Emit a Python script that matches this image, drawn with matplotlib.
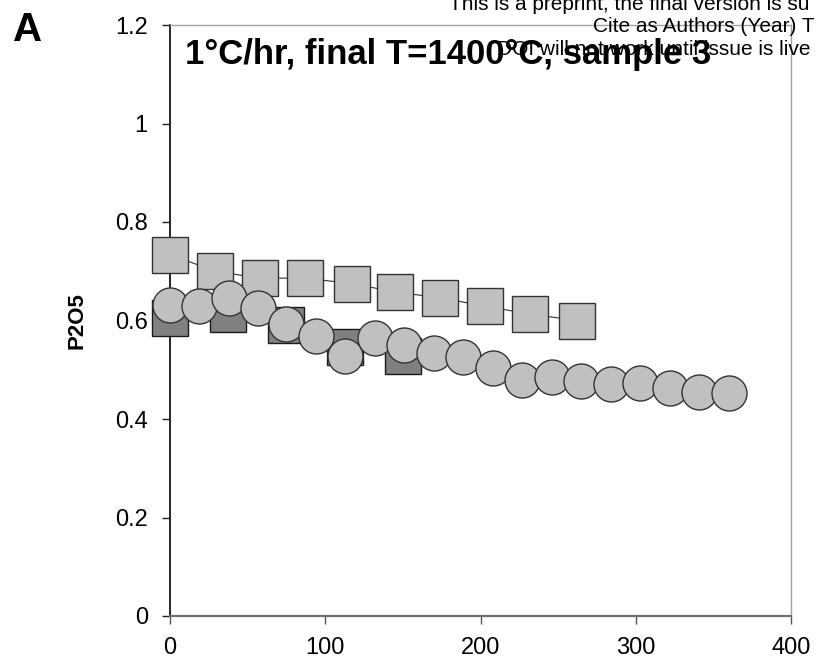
import matplotlib
matplotlib.use("Agg")
import matplotlib.pyplot as plt

plt.rcParams['font.family'] = ['Liberation Sans', 'DejaVu Sans']

# Data
x_light_sq = [0, 29, 58, 87, 117, 145, 174, 203, 232, 262]
y_light_sq = [0.734, 0.700, 0.686, 0.686, 0.675, 0.658, 0.646, 0.629, 0.613, 0.600]

x_dark_sq = [0, 37.5, 75, 112.5, 150]
y_dark_sq = [0.605, 0.613, 0.590, 0.546, 0.528]

x_circ = [0, 19, 38, 57, 75, 94, 113, 132, 151, 170, 189, 208, 227, 246, 265, 284, 303, 322, 341, 360]
y_circ = [0.631, 0.629, 0.646, 0.625, 0.592, 0.568, 0.527, 0.565, 0.550, 0.535,
          0.525, 0.504, 0.480, 0.486, 0.478, 0.471, 0.474, 0.463, 0.455, 0.452]

x_ticks = [0, 100, 200, 300, 400]
y_ticks = [0, 0.2, 0.4, 0.6, 0.8, 1.0, 1.2]
y_tick_labels = ["0", "0.2", "0.4", "0.6", "0.8", "1", "1.2"]

title = "1°C/hr, final T=1400°C, sample 3"
watermark = ["This is a preprint, the final version is su",
             "Cite as Authors (Year) T",
             "DOI will not work until issue is live"]

DPI = 100
W, H = 816, 665
fig = plt.figure(figsize=(W / DPI, H / DPI), dpi=DPI)
ax = fig.add_axes([170 / W, 1 - 616 / H, (791 - 170) / W, (616 - 25) / H])

ms = 36 * 72 / DPI
ax.plot(x_dark_sq, y_dark_sq, '-', color='#333333', lw=0.8, marker='s', ms=ms,
        mfc='#808080', mec='#1a1a1a', mew=1.0, zorder=3, clip_on=False)
ax.plot(x_light_sq, y_light_sq, '-', color='#333333', lw=0.8, marker='s', ms=ms,
        mfc='#c0c0c0', mec='#333333', mew=1.0, zorder=4, clip_on=False)
ax.plot(x_circ, y_circ, '-', color='#333333', lw=0.8, marker='o', ms=35 * 72 / DPI,
        mfc='#c0c0c0', mec='#333333', mew=1.0, zorder=5, clip_on=False)

ax.set_xlim(0, 400)
ax.set_ylim(0, 1.2)
ax.set_xticks(x_ticks)
ax.set_xticklabels([str(v) for v in x_ticks])
ax.set_yticks(y_ticks)
ax.set_yticklabels(y_tick_labels)

ax.tick_params(axis='both', direction='out', length=6, width=1, labelsize=17)
ax.tick_params(axis='x', pad=9, color='#555555')
ax.tick_params(axis='y', pad=10, color='#222222')

ax.spines['left'].set_color('black')
ax.spines['left'].set_linewidth(1.2)
ax.spines['bottom'].set_color('#707070')
ax.spines['bottom'].set_linewidth(1.6)
ax.spines['top'].set_color('#a0a0a0')
ax.spines['right'].set_color('#a0a0a0')
ax.spines['top'].set_linewidth(1.0)
ax.spines['right'].set_linewidth(1.0)

ax.set_ylabel("P2O5", fontsize=16, fontweight='bold')
ax.yaxis.set_label_coords((87 - 170) / (791 - 170), 0.5)

fig.text(185 / W, 1 - 64 / H, title, fontsize=25, fontweight='bold', va='baseline', ha='left')
fig.text(13 / W, 1 - 41 / H, "A", fontsize=29, fontweight='bold', va='baseline', ha='left')

fig.text(449 / W, 1 - 10 / H, watermark[0], fontsize=15, va='baseline', ha='left')
fig.text(593 / W, 1 - 32 / H, watermark[1], fontsize=15, va='baseline', ha='left')
fig.text(497 / W, 1 - 55 / H, watermark[2], fontsize=15, va='baseline', ha='left')

fig.savefig("out.png", dpi=DPI)
